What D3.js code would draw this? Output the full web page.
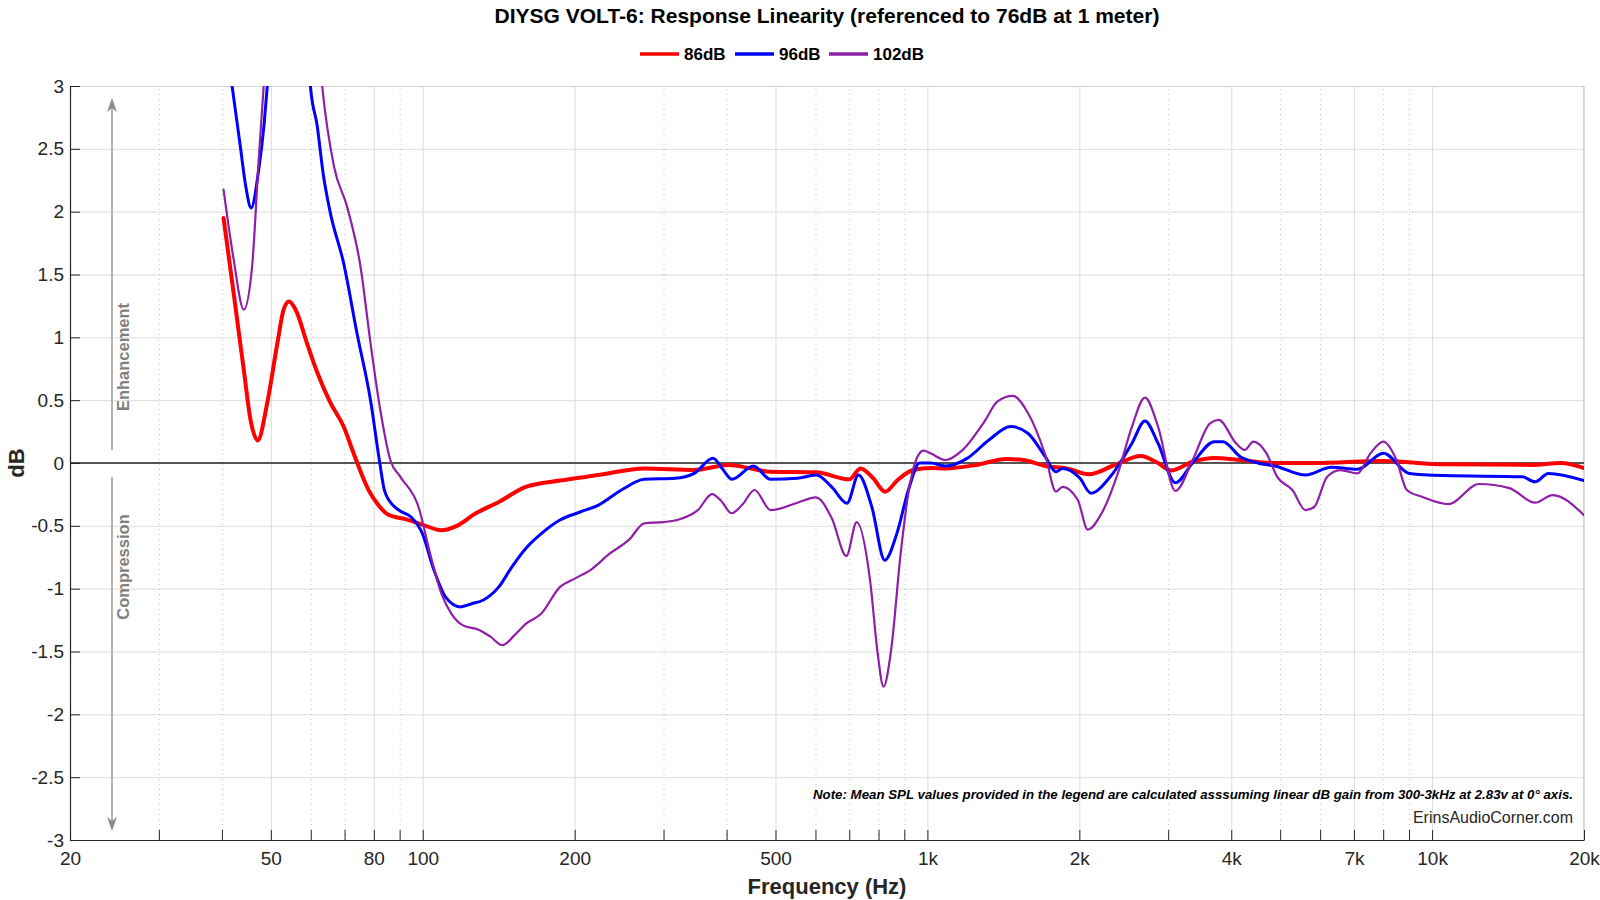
<!DOCTYPE html>
<html>
<head>
<meta charset="utf-8">
<script src="https://cdn.jsdelivr.net/npm/d3@7"></script>
<style>
  html, body { margin: 0; padding: 0; background: #fff; }
  svg { display: block; font-family: "Liberation Sans", Arial, Helvetica, sans-serif; }
</style>
</head>
<body>
<svg id="chart" width="1600" height="900"></svg>
<script>
// ---------------- data ----------------
const titleText = "DIYSG VOLT-6: Response Linearity (referenced to 76dB at 1 meter)";
const seriesNames = ["86dB", "96dB", "102dB"];
const seriesColors = ["#ff0000", "#0000ff", "#8e1fa6"];

const xMajorTicks = [20, 50, 80, 100, 200, 500, 1000, 2000, 4000, 7000, 10000, 20000];
const xMajorLabels = ["20", "50", "80", "100", "200", "500", "1k", "2k", "4k", "7k", "10k", "20k"];
const xMinorTicks = [30, 40, 60, 70, 90, 300, 400, 600, 700, 800, 900, 3000, 5000, 6000, 8000, 9000];
const yTicks = [-3, -2.5, -2, -1.5, -1, -0.5, 0, 0.5, 1, 1.5, 2, 2.5, 3];
const yTickLabels = ["-3", "-2.5", "-2", "-1.5", "-1", "-0.5", "0", "0.5", "1", "1.5", "2", "2.5", "3"];

const freq86 = [40.3, 42.2, 44.2, 45.6, 47.1, 49.2, 51.5, 53.0, 54.3, 56.0, 59.0, 61.8, 65.6, 69.7, 72.9, 76.4, 78.2, 81.5, 85.3, 93.1, 99.8, 108.9, 116.8, 127.4, 141.5, 160, 187, 223, 275, 345, 403, 489, 602, 700, 737, 780, 825, 873, 937, 1014, 1086, 1247, 1433, 1550, 1712, 1890, 2087, 2350, 2646, 2864, 3039, 3354, 3703, 4169, 4789, 5840, 8007, 10560, 15700, 18000, 20000];
const db86 = [1.95, 1.35, 0.74, 0.34, 0.18, 0.48, 0.95, 1.22, 1.285, 1.22, 0.95, 0.72, 0.48, 0.29, 0.08, -0.13, -0.22, -0.33, -0.41, -0.45, -0.49, -0.535, -0.50, -0.40, -0.31, -0.19, -0.14, -0.096, -0.043, -0.056, -0.016, -0.069, -0.074, -0.13, -0.043, -0.12, -0.228, -0.135, -0.056, -0.04, -0.043, -0.016, 0.032, 0.024, -0.024, -0.043, -0.09, -0.016, 0.056, 0.0, -0.06, 0.01, 0.04, 0.024, 0.0, 0.0, 0.016, -0.01, -0.015, 0.0, -0.04];

const freq96 = [40.3, 41.9, 43.5, 44.6, 45.7, 47.3, 48.5, 49.2, 52, 55, 58, 59.9, 61.8, 63.5, 65.6, 69.7, 74.1, 78.8, 82.2, 84, 87.5, 90, 94.8, 99.8, 105.2, 110.9, 118.8, 125, 131.9, 141.5, 150, 160, 172, 187, 205, 223, 247.5, 274.7, 316, 345, 376, 393, 410, 452, 489, 552, 602, 646, 693, 730, 776, 823, 870, 917, 965, 1014, 1086, 1199, 1324, 1462, 1581, 1712, 1798, 1852, 2006, 2108, 2303, 2543, 2698, 2864, 3100, 3354, 3703, 3852, 4169, 4514, 4884, 5612, 6316, 7113, 8007, 9021, 10560, 15090, 16010, 16990, 20000];
const db96 = [3.5, 3.0, 2.52, 2.2, 2.03, 2.33, 2.7, 3.0, 4.5, 5.0, 4.0, 3.0, 2.68, 2.3, 1.99, 1.59, 1.03, 0.50, 0.0, -0.22, -0.34, -0.38, -0.43, -0.56, -0.85, -1.065, -1.145, -1.12, -1.09, -0.986, -0.83, -0.68, -0.56, -0.454, -0.39, -0.335, -0.215, -0.13, -0.122, -0.083, 0.037, -0.05, -0.13, -0.024, -0.13, -0.122, -0.096, -0.19, -0.32, -0.096, -0.35, -0.773, -0.56, -0.215, 0.0, 0.0, -0.024, 0.037, 0.183, 0.29, 0.237, 0.05, -0.07, -0.043, -0.122, -0.24, -0.11, 0.157, 0.335, 0.157, -0.157, 0.0, 0.17, 0.17, 0.05, 0.0, -0.024, -0.096, -0.034, -0.05, 0.077, -0.083, -0.1, -0.11, -0.15, -0.083, -0.14];

const freq102 = [40.3, 42.2, 44.2, 45.9, 47.3, 48.4, 51, 55, 60, 63.2, 66.7, 70.8, 75.3, 78.8, 82.4, 86.3, 90.3, 98.1, 103.4, 108.9, 114, 119.9, 129.7, 136, 143.9, 152, 160, 171.6, 187.1, 200, 215.2, 234.9, 256.4, 274.7, 300, 321.7, 350.8, 374.4, 390, 409.2, 430, 454.4, 489, 552.5, 601, 646.4, 690.9, 724.2, 769.6, 797.2, 818.4, 847.3, 885.1, 916.8, 949.4, 982.5, 1014, 1086, 1175, 1297, 1377, 1476, 1581, 1712, 1798, 1852, 1986, 2079, 2214, 2396, 2543, 2698, 2864, 3100, 3354, 3631, 3778, 4088, 4253, 4424, 4697, 4933, 5287, 5612, 5840, 6196, 6578, 7113, 7549, 8007, 8500, 8912, 9570, 10780, 12380, 14220, 16010, 17330, 20000];
const db102 = [2.175, 1.62, 1.22, 1.56, 2.41, 3.0, 4.5, 5.5, 4.2, 3.0, 2.36, 2.04, 1.56, 0.954, 0.42, 0.02, -0.11, -0.35, -0.72, -1.04, -1.2, -1.29, -1.33, -1.38, -1.45, -1.37, -1.28, -1.20, -0.986, -0.92, -0.85, -0.72, -0.61, -0.48, -0.47, -0.45, -0.375, -0.247, -0.30, -0.40, -0.33, -0.215, -0.375, -0.316, -0.274, -0.44, -0.74, -0.47, -0.93, -1.52, -1.78, -1.49, -0.72, -0.24, 0.024, 0.098, 0.077, 0.024, 0.104, 0.33, 0.49, 0.534, 0.40, 0.064, -0.228, -0.19, -0.295, -0.53, -0.40, -0.056, 0.29, 0.52, 0.29, -0.223, 0.024, 0.316, 0.343, 0.157, 0.104, 0.17, 0.077, -0.11, -0.215, -0.375, -0.35, -0.11, -0.056, -0.083, 0.077, 0.17, 0.024, -0.215, -0.27, -0.327, -0.167, -0.20, -0.316, -0.255, -0.415];

const noteText = "Note: Mean SPL values provided in the legend are calculated asssuming linear dB gain from 300-3kHz at 2.83v at 0\u00B0 axis.";
const creditText = "ErinsAudioCorner.com";

// ---------------- layout ----------------
const W = 1600, H = 900;
const L = 70, R = 1584, T = 86, B = 840;
const pw = R - L, ph = B - T;

const svg = d3.select("#chart");
const x = d3.scaleLog().domain([20, 20000]).range([L, R]);
const y = d3.scaleLinear().domain([-3, 3]).range([B, T]);

svg.append("defs").append("clipPath").attr("id", "plotclip")
  .append("rect").attr("x", L).attr("y", T).attr("width", pw).attr("height", ph);

// horizontal grid
svg.append("g").attr("transform", `translate(${L},0)`)
  .call(d3.axisLeft(y).tickValues(yTicks).tickSize(-pw).tickFormat(""))
  .call(g => g.select(".domain").remove())
  .call(g => g.selectAll("line").attr("stroke", "#dcdcdc").attr("stroke-width", 1));

// vertical major grid
svg.append("g").attr("transform", `translate(0,${B})`)
  .call(d3.axisBottom(x).tickValues(xMajorTicks).tickSize(-ph).tickFormat(""))
  .call(g => g.select(".domain").remove())
  .call(g => g.selectAll("line").attr("stroke", "#dcdcdc").attr("stroke-width", 1));

// vertical minor grid (dotted)
svg.append("g").attr("transform", `translate(0,${B})`)
  .call(d3.axisBottom(x).tickValues(xMinorTicks).tickSize(-ph).tickFormat(""))
  .call(g => g.select(".domain").remove())
  .call(g => g.selectAll("line").attr("stroke", "#c4c4c4").attr("stroke-width", 1).attr("stroke-dasharray", "1,4"));

// top/right border
svg.append("line").attr("x1", L).attr("x2", R).attr("y1", T + 0.5).attr("y2", T + 0.5).attr("stroke", "#d4d4d4");
svg.append("line").attr("x1", R - 0.5).attr("x2", R - 0.5).attr("y1", T).attr("y2", B).attr("stroke", "#d4d4d4");

// zero line
svg.append("line").attr("x1", L).attr("x2", R).attr("y1", y(0)).attr("y2", y(0))
  .attr("stroke", "#555").attr("stroke-width", 2);

// axes
const yAxis = svg.append("g").attr("transform", `translate(${L},0)`)
  .call(d3.axisLeft(y).tickValues(yTicks).tickSizeInner(-10).tickSizeOuter(0).tickPadding(6)
    .tickFormat((d, i) => yTickLabels[i]));
yAxis.select(".domain").attr("stroke", "#262626").attr("stroke-width", 1.2);
yAxis.selectAll("line").attr("stroke", "#262626");
yAxis.selectAll("text").attr("font-size", 19).attr("fill", "#262626")
  .attr("font-family", "'Liberation Sans', Arial, sans-serif").attr("x", -6);

const allXTicks = xMajorTicks.concat(xMinorTicks).sort((a, b) => a - b);
const xAxis = svg.append("g").attr("transform", `translate(0,${B})`)
  .call(d3.axisBottom(x).tickValues(allXTicks).tickSizeInner(-10).tickSizeOuter(0).tickPadding(12)
    .tickFormat(d => { const i = xMajorTicks.indexOf(d); return i >= 0 ? xMajorLabels[i] : ""; }));
xAxis.select(".domain").attr("stroke", "#262626").attr("stroke-width", 1.2);
xAxis.selectAll("line").attr("stroke", "#262626");
xAxis.selectAll("text").attr("font-size", 19).attr("fill", "#262626")
  .attr("font-family", "'Liberation Sans', Arial, sans-serif").attr("y", 12);

// series
const series = [
  { f: freq86, v: db86, w: 4 },
  { f: freq96, v: db96, w: 3 },
  { f: freq102, v: db102, w: 2.2 }
];
const line = d3.line().x(d => x(d[0])).y(d => y(d[1])).curve(d3.curveMonotoneX);
const lg = svg.append("g").attr("clip-path", "url(#plotclip)");
series.forEach((s, i) => {
  const pts = s.f.map((f, j) => [f, s.v[j]]);
  lg.append("path").datum(pts).attr("d", line)
    .attr("fill", "none").attr("stroke", seriesColors[i]).attr("stroke-width", s.w)
    .attr("stroke-linejoin", "round").attr("stroke-linecap", "round");
});

// enhancement / compression arrows
const ax = 112;
const arrowG = svg.append("g");
function arrow(y1, y2) {
  arrowG.append("line").attr("x1", ax).attr("x2", ax).attr("y1", y1).attr("y2", y2 + (y2 < y1 ? 10 : -10))
    .attr("stroke", "#b3b3b3").attr("stroke-width", 2);
  const dir = y2 < y1 ? 1 : -1;
  arrowG.append("path")
    .attr("d", `M${ax},${y2} L${ax - 5},${y2 + dir * 14} L${ax},${y2 + dir * 10} L${ax + 5},${y2 + dir * 14} Z`)
    .attr("fill", "#8c8c8c");
}
arrow(450, 98);
arrow(477, 831);
arrowG.append("text").attr("transform", `translate(123,357) rotate(-90)`)
  .attr("text-anchor", "middle").attr("dominant-baseline", "central")
  .attr("font-size", 16.5).attr("font-weight", "bold").attr("fill", "#7f7f7f").text("Enhancement");
arrowG.append("text").attr("transform", `translate(123,567) rotate(-90)`)
  .attr("text-anchor", "middle").attr("dominant-baseline", "central")
  .attr("font-size", 16.5).attr("font-weight", "bold").attr("fill", "#7f7f7f").text("Compression");

// title
svg.append("text").attr("x", (L + R) / 2).attr("y", 23).attr("text-anchor", "middle")
  .attr("font-size", 21).attr("font-weight", "bold").attr("fill", "#000").text(titleText);

// axis labels
svg.append("text").attr("x", (L + R) / 2).attr("y", 894).attr("text-anchor", "middle")
  .attr("font-size", 22).attr("font-weight", "bold").attr("fill", "#262626").text("Frequency (Hz)");
svg.append("text").attr("transform", `translate(24,${(T + B) / 2}) rotate(-90)`).attr("text-anchor", "middle")
  .attr("font-size", 22).attr("font-weight", "bold").attr("fill", "#262626").text("dB");

// legend
const legendX = [640, 735, 829];
const legG = svg.append("g");
seriesNames.forEach((n, i) => {
  legG.append("line").attr("x1", legendX[i]).attr("x2", legendX[i] + 39).attr("y1", 54).attr("y2", 54)
    .attr("stroke", seriesColors[i]).attr("stroke-width", 3.5);
  legG.append("text").attr("x", legendX[i] + 44).attr("y", 60)
    .attr("font-size", 17).attr("font-weight", "bold").attr("fill", "#000").text(n);
});

// notes
svg.append("text").attr("x", 1573).attr("y", 799).attr("text-anchor", "end")
  .attr("font-size", 13).attr("font-weight", "bold").attr("font-style", "italic").attr("fill", "#000")
  .attr("textLength", 760).attr("lengthAdjust", "spacingAndGlyphs").text(noteText);
svg.append("text").attr("x", 1573).attr("y", 823).attr("text-anchor", "end")
  .attr("font-size", 16).attr("fill", "#262626").text(creditText);
</script>
</body>
</html>
